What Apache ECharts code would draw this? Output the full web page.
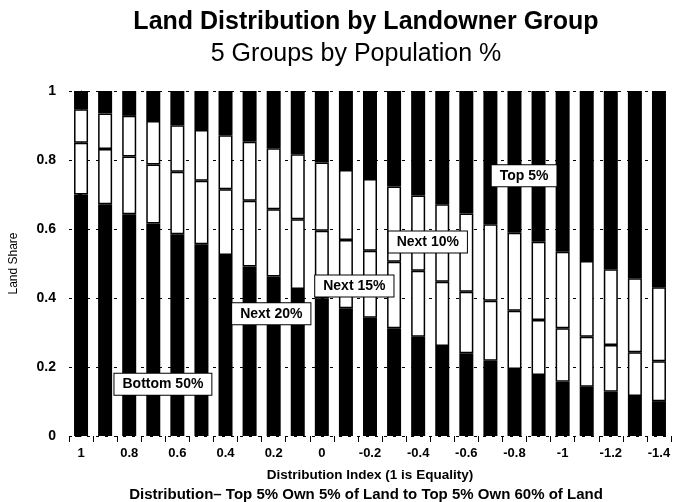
<!DOCTYPE html>
<html>
<head>
<meta charset="utf-8">
<script src="https://cdn.jsdelivr.net/npm/echarts@6/dist/echarts.min.js"></script>
<style>
  html, body { margin: 0; padding: 0; background: #fff; }
  #chart { width: 673px; height: 502px; }
</style>
</head>
<body>
<div id="chart"></div>
<script>
// distribution index, 1 = equality
var categories = ['1', '0.9', '0.8', '0.7', '0.6', '0.5', '0.4', '0.3', '0.2', '0.1', '0',
  '-0.1', '-0.2', '-0.3', '-0.4', '-0.5', '-0.6', '-0.7', '-0.8', '-0.9', '-1',
  '-1.1', '-1.2', '-1.3', '-1.4'];

// cumulative land share at the segment boundaries
var lowerTop = [0.70, 0.672, 0.643, 0.616, 0.585, 0.556, 0.525, 0.491, 0.462, 0.426, 0.399,
  0.370, 0.343, 0.312, 0.288, 0.261, 0.240, 0.218, 0.194, 0.177, 0.157, 0.143, 0.128, 0.116, 0.101];
var middleTop = [0.85, 0.832, 0.81, 0.787, 0.766, 0.74, 0.715, 0.682, 0.657, 0.628, 0.595,
  0.568, 0.537, 0.505, 0.479, 0.447, 0.418, 0.392, 0.363, 0.336, 0.312, 0.288, 0.264, 0.243, 0.217];
var upperTop = [0.947, 0.935, 0.928, 0.913, 0.901, 0.887, 0.872, 0.853, 0.834, 0.817, 0.793,
  0.771, 0.745, 0.723, 0.697, 0.672, 0.645, 0.614, 0.589, 0.563, 0.534, 0.507, 0.483, 0.457, 0.431];

// group labels (position in category steps, land share)
var groupNames = ['Bottom 50%', 'Next 20%', 'Next 15%', 'Next 10%', 'Top 5%'];
var groupX = [3.4, 7.9, 11.35, 14.4, 18.4];
var groupY = [0.15, 0.354, 0.435, 0.562, 0.754];

var yTicks = [0, 0.2, 0.4, 0.6, 0.8, 1];

function diff(a, b) {
  return a.map(function (v, i) { return Math.round((v - (b ? b[i] : 0)) * 1000) / 1000 })
}
var seg1 = diff(lowerTop)
var seg2 = diff(middleTop, lowerTop)
var seg3 = diff(upperTop, middleTop)
var seg4 = upperTop.map(function (v) { return Math.round((1 - v) * 1000) / 1000 })

var font = 'Liberation Sans'

function barSeries(name, data, color, border) {
  return {
    name: name,
    type: 'bar',
    stack: 'land',
    barWidth: 14,
    data: data,
    itemStyle: { color: color, borderColor: '#000', borderWidth: border },
    emphasis: { disabled: true }
  }
}

var series = [
  barSeries('lower', seg1, '#000', 0),
  barSeries('middle', seg2, '#fff', 1.5),
  barSeries('upper', seg3, '#fff', 1.5),
  barSeries('top', seg4, '#000', 0),
  {
    // boxed group names
    name: 'groups',
    type: 'scatter',
    xAxisIndex: 1,
    symbolSize: 1,
    silent: true,
    z: 10,
    itemStyle: { opacity: 1, color: 'rgba(0,0,0,0)' },
    data: groupNames.map(function (n, i) { return { name: n, value: [groupX[i], groupY[i]] } }),
    label: {
      show: true,
      position: 'inside',
      formatter: '{b}',
      color: '#000',
      textBorderWidth: 0,
      textBorderColor: 'transparent',
      fontFamily: font,
      fontSize: 14,
      fontWeight: 'bold',
      backgroundColor: '#fff',
      borderColor: '#000',
      borderWidth: 1,
      padding: [4, 8, 3, 8]
    },
    emphasis: { disabled: true }
  }
]

var myChart = echarts.init(document.getElementById('chart'))
myChart.setOption({
  animation: false,
  backgroundColor: '#fff',
  title: [
    {
      text: 'Land Distribution by Landowner Group',
      left: 361, top: 5, textAlign: 'center',
      textStyle: { fontFamily: font, fontSize: 25, fontWeight: 'bold', color: '#000' }
    },
    {
      text: '5 Groups by Population %',
      left: 351, top: 37, textAlign: 'center',
      textStyle: { fontFamily: font, fontSize: 25, fontWeight: 'normal', color: '#000' }
    },
    {
      text: 'Distribution\u2013 Top 5% Own 5% of Land to Top 5% Own 60% of Land',
      left: 361, top: 482, textAlign: 'center',
      textStyle: { fontFamily: font, fontSize: 15, fontWeight: 'bold', color: '#000' }
    }
  ],
  grid: { left: 66, top: 91, width: 610, height: 345 },
  xAxis: [
    {
      type: 'category',
      data: categories,
      name: 'Distribution Index (1 is Equality)',
      nameLocation: 'middle',
      nameGap: 32,
      nameTextStyle: { fontFamily: font, fontSize: 13.5, fontWeight: 'bold', color: '#000' },
      axisLine: { show: false },
      axisTick: { show: true, interval: 0, length: 6, lineStyle: { color: '#000' } },
      axisLabel: { interval: 1, margin: 11, fontFamily: font, fontSize: 13, fontWeight: 'bold', color: '#000' },
      splitLine: { show: false }
    },
    {
      type: 'value',
      min: -0.5,
      max: 24.5,
      show: false
    }
  ],
  yAxis: {
    type: 'value',
    min: 0, max: 1, interval: 0.2,
    name: 'Land Share',
    nameLocation: 'middle',
    nameGap: 49,
    nameRotate: 90,
    nameTextStyle: { fontFamily: font, fontSize: 12, color: '#000' },
    axisLine: { show: true, lineStyle: { color: '#000', width: 1 } },
    axisTick: { show: true, length: 6, lineStyle: { color: '#000' } },
    minorTick: { show: true, splitNumber: 2, length: 3, lineStyle: { color: '#000' } },
    axisLabel: {
      margin: 13, fontFamily: font, fontSize: 14, fontWeight: 'bold', color: '#000',
      formatter: function (v) { return yTicks.indexOf(Math.round(v * 10) / 10) >= 0 ? String(Math.round(v * 10) / 10) : '' }
    },
    splitLine: { show: true, lineStyle: { color: '#000', type: [3, 6], width: 1 } }
  },
  series: series
})
window.onresize = myChart.resize
</script>
</body>
</html>
